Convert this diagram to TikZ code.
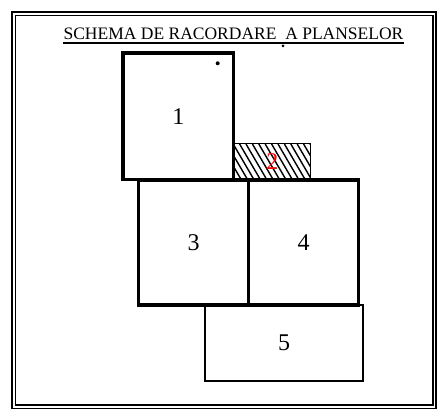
\documentclass[tikz,border=0pt]{standalone}
\usepackage{fontspec}
\setmainfont{Liberation Serif}
\begin{document}
\begin{tikzpicture}[x=1pt,y=-1pt,
  thickbox/.style={draw=black,line width=3.2pt,rectangle,inner sep=0pt,outer sep=0pt,font=\fontsize{24}{27}\selectfont},
  thinbox/.style={draw=black,line width=1.5pt,rectangle,inner sep=0pt,outer sep=0pt,font=\fontsize{24}{27}\selectfont},
  framel/.style={draw=black,line width=1.8pt}]
\useasboundingbox (0,0) rectangle (445,416);
% frame
\draw[framel] (12,12) rectangle (436,408.5);
\draw[framel] (15.5,15.5) rectangle (432.8,405);
% title
\node[anchor=base,inner sep=0pt,font=\fontsize{17.5}{20}\selectfont] (title) at (233.5,39.3) {SCHEMA DE RACORDARE\ \ A PLANSELOR};
\coordinate (ulA) at (63,43);
\coordinate (ulB) at (404,43);
\draw[line width=1.1pt] (ulA) -- (ulB);
\fill (283,45.8) circle (1.5);
% box 2 hatched
\begin{scope}
\clip (234,144) rectangle (310.5,180);
\foreach \i in {0,...,18} {
  \draw[line width=1.4pt] (214+\i*6.4,144) -- (235+\i*6.4,180);
}
\end{scope}
\node[thinbox,minimum width=76.5pt,minimum height=36pt,text=red] (b2) at (272.25,161.5) {2};
% box 1
\node[thickbox,minimum width=110.7pt,minimum height=126.5pt] (b1) at (178.4,116.3) {1};
\fill (217.7,63.3) circle (2);
% boxes 3 and 4
\node[thickbox,minimum width=110pt,minimum height=125pt] (b3) at (193.5,242.5) {3};
\node[thickbox,minimum width=110pt,minimum height=125pt] (b4) at (303.5,242.5) {4};
% box 5
\node[thinbox,minimum width=158pt,minimum height=75.7pt] (b5) at (284,342.9) {5};
\end{tikzpicture}
\end{document}
